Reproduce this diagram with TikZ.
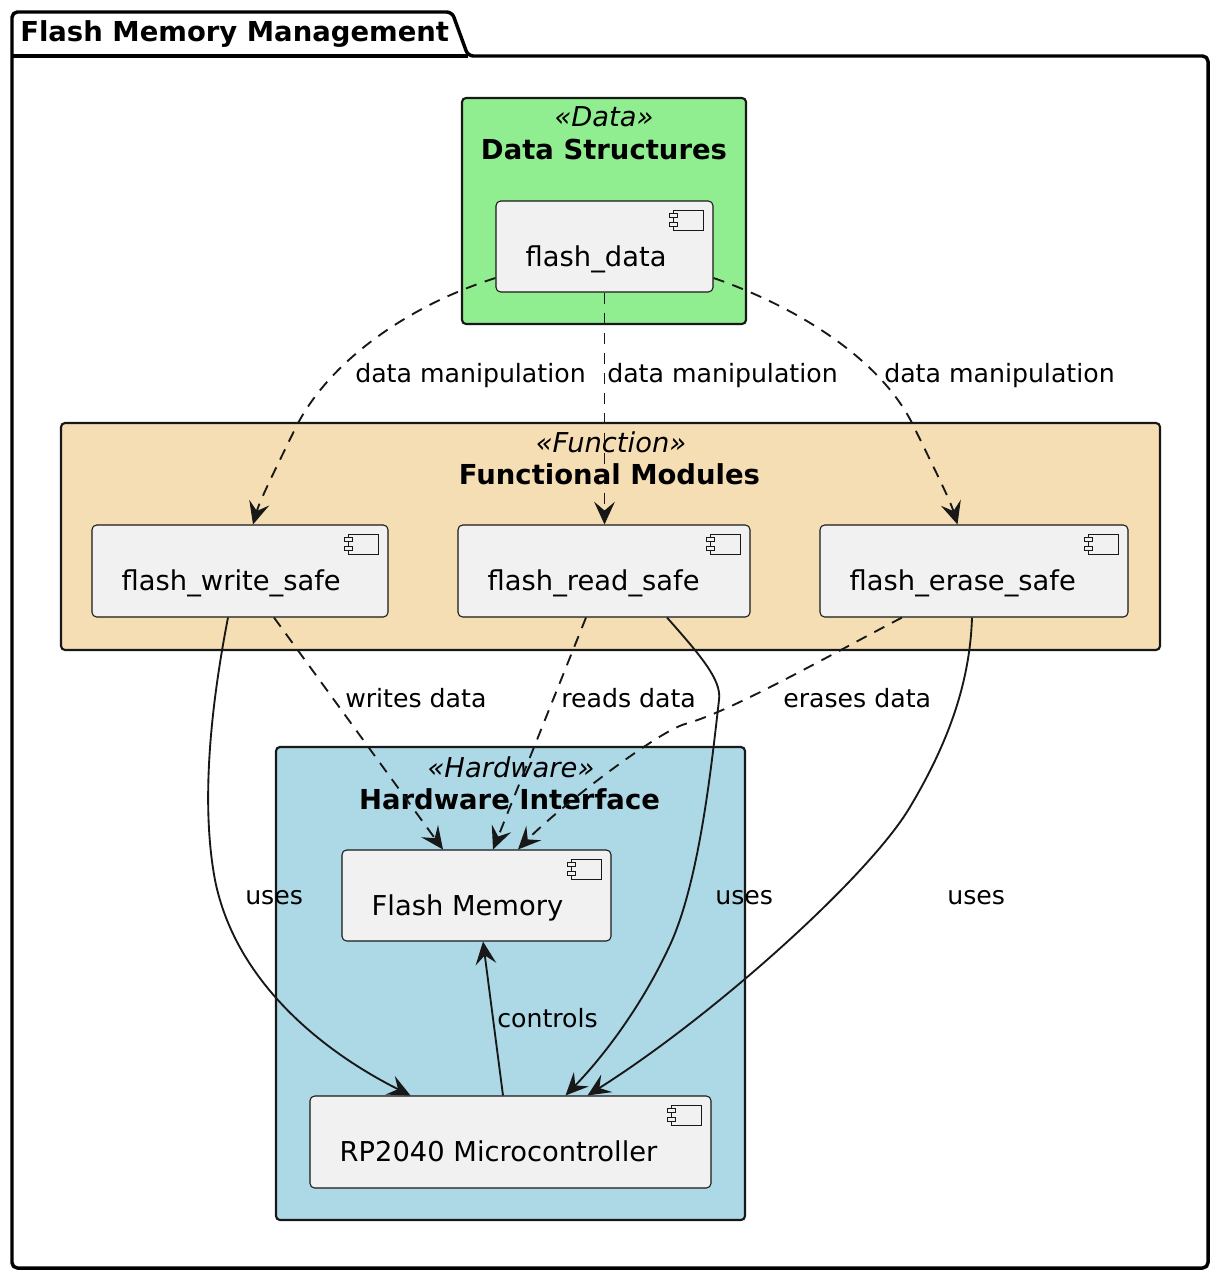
\documentclass[tikz,border=0pt]{standalone}
\usepackage{fontspec}
\setmainfont{DejaVu Sans}
\usetikzlibrary{arrows.meta,calc}
\definecolor{ink}{HTML}{181818}
\definecolor{compfill}{HTML}{F1F1F1}
\definecolor{datafill}{HTML}{90EE90}
\definecolor{funcfill}{HTML}{F5DEB3}
\definecolor{hwfill}{HTML}{ADD8E6}
\tikzset{
 pkgline/.style={draw=black, line width=2.6pt, rounded corners=4pt, line join=round},
 cluster/.style={rectangle, inner sep=0pt, draw=ink, line width=1.6pt, rounded corners=3pt},
 comp/.style={rectangle, inner sep=0pt, draw=ink, fill=compfill, line width=0.8pt, rounded corners=3.5pt},
 ctext/.style={anchor=base west, inner sep=0pt, font=\fontsize{20.5}{24}\selectfont},
 stereo/.style={anchor=base, inner sep=0pt, font=\fontsize{20.5}{24}\selectfont\itshape},
 ctitle/.style={anchor=base, inner sep=0pt, font=\fontsize{20.6}{24}\selectfont\bfseries},
 ptitle/.style={anchor=base west, inner sep=0pt, font=\fontsize{20.6}{24}\selectfont\bfseries},
 elabel/.style={anchor=base west, inner sep=0pt, font=\fontsize{18.9}{22}\selectfont},
 edge/.style={draw=ink, line width=1.4pt, -{Stealth[length=17pt,width=15.5pt,inset=6.5pt]}},
 dashededge/.style={edge, dash pattern=on 8.5pt off 6.5pt},
 iconline/.style={draw=ink, line width=0.6pt},
}
\newcommand\compicon[1]{%
  \draw[iconline] ($(#1.north east)+(-40,10)$) rectangle ($(#1.north east)+(-10,30)$);
  \draw[iconline, fill=compfill] ($(#1.north east)+(-44,13)$) rectangle ($(#1.north east)+(-36,17)$);
  \draw[iconline, fill=compfill] ($(#1.north east)+(-44,22)$) rectangle ($(#1.north east)+(-36,26)$);
}
\begin{document}
\begin{tikzpicture}[x=0.75pt,y=-0.75pt]
\fill[white] (0,0) rectangle (1220,1280);
\useasboundingbox (0,0) rectangle (1220,1280);

% package
\draw[pkgline] (12,1268) -- (12,12) -- (452,12) -- (468,56) -- (1208,56) -- (1208,1268) -- cycle;
\draw[line width=2.6pt] (12,56) -- (468,56);
\node[ptitle] (ptitle) at (20,42) {Flash Memory Management};

% clusters
\node[cluster, fill=datafill, minimum width=213pt, minimum height=169.5pt] (cdata) at (604,211) {};
\node[stereo] (sdata) at (604,127) {«Data»};
\node[ctitle] (tdata) at (604,160) {Data Structures};

\node[cluster, fill=funcfill, minimum width=824.25pt, minimum height=170.25pt] (cfunc) at (610.5,536.5) {};
\node[stereo] (sfunc) at (611,452) {«Function»};
\node[ctitle] (tfunc) at (609.5,484) {Functional Modules};

\node[cluster, fill=hwfill, minimum width=351.75pt, minimum height=354.75pt] (chw) at (510.5,983.5) {};
\node[stereo] (shw) at (511,777) {«Hardware»};
\node[ctitle] (thw) at (509.5,809) {Hardware Interface};

% components
\node[comp, minimum width=162.75pt, minimum height=68.25pt] (fd) at (604.5,246.5) {};
\node[ctext] (fdt) at ($(fd.west)+(30,19.5)$) {flash\_data};
\compicon{fd}

\node[comp, minimum width=222pt, minimum height=69pt] (fws) at (240,571) {};
\node[ctext] (fwst) at ($(fws.west)+(30,19.5)$) {flash\_write\_safe};
\compicon{fws}

\node[comp, minimum width=219pt, minimum height=69pt] (frs) at (604,571) {};
\node[ctext] (frst) at ($(frs.west)+(30,19.5)$) {flash\_read\_safe};
\compicon{frs}

\node[comp, minimum width=231pt, minimum height=69pt] (fes) at (974,571) {};
\node[ctext] (fest) at ($(fes.west)+(30,19.5)$) {flash\_erase\_safe};
\compicon{fes}

\node[comp, minimum width=201.75pt, minimum height=68.25pt] (fm) at (476.5,895.5) {};
\node[ctext] (fmt) at ($(fm.west)+(30,19.5)$) {Flash Memory};
\compicon{fm}

\node[comp, minimum width=300.75pt, minimum height=69pt] (rp) at (510.5,1142) {};
\node[ctext] (rpt) at ($(rp.west)+(30,19.5)$) {RP2040 Microcontroller};
\compicon{rp}

% edges: data manipulation
\draw[dashededge] ($(fd.west)+(0,31.5)$) .. controls (410,305) and (330,360) .. (296,427)
   .. controls (275,470) and (260,500) .. ($(fws.north)+(13,0)$);
\draw[dashededge] (fd.south) -- (fd.south |- frs.north);
\draw[dashededge] ($(fd.east)+(0,31.5)$) .. controls (800,308) and (880,360) .. (912,423)
   .. controls (935,470) and (950,500) .. ($(fes.north)+(-16.5,0)$);

% edges to Flash Memory
\draw[dashededge] ($(fws.south)+(34,0)$) -- ($(fm.north)+(-33.5,0)$);
\draw[dashededge] ($(frs.south)+(-18,0)$) -- ($(fm.north)+(16.5,0)$);
\draw[dashededge] ($(fes.south)+(-72,0)$) .. controls (830,655) and (730,712) .. (685,724)
   .. controls (655,733) and (556,810) .. ($(fm.north)+(41.5,0)$);

% uses edges
\draw[edge] ($(fws.south)+(-12,0)$) .. controls (212,700) and (200,800) .. (215,880)
   .. controls (235,980) and (320,1050) .. ($(rp.north)+(-100,0)$);
\draw[edge] ($(frs.south)+(63,0)$) .. controls (700,655) and (722,680) .. (719,700)
   .. controls (712,760) and (700,880) .. (670,945)
   .. controls (640,1010) and (600,1060) .. ($(rp.north)+(55,0)$);
\draw[edge] ($(fes.south)+(-2,0)$) .. controls (970,680) and (950,740) .. (910,807)
   .. controls (870,875) and (715,1015) .. ($(rp.north)+(77,0)$);

% controls
\draw[edge] ($(rp.north)+(-7.5,0)$) -- ($(fm.south)+(6.5,0)$);

% labels
\node[elabel] (l1) at (355,382) {data manipulation};
\node[elabel] (l2) at (607,382) {data manipulation};
\node[elabel] (l3) at (884,382) {data manipulation};
\node[elabel] (l4) at (345,707) {writes data};
\node[elabel] (l5) at (561,707) {reads data};
\node[elabel] (l6) at (783,707) {erases data};
\node[elabel] (l7) at (245,904) {uses};
\node[elabel] (l8) at (715,904) {uses};
\node[elabel] (l9) at (947,904) {uses};
\node[elabel] (l10) at (497,1027) {controls};
\end{tikzpicture}
\end{document}
